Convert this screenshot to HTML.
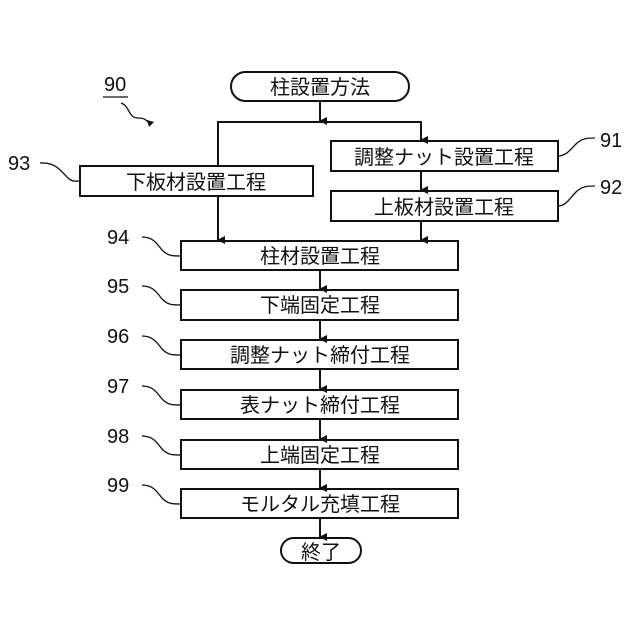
<!DOCTYPE html>
<html><head><meta charset="utf-8"><style>
html,body{margin:0;padding:0;background:#fff}
svg{display:block}
text{font-family:"Liberation Sans","Noto Sans CJK JP",sans-serif;fill:#111}
</style></head><body>
<svg width="640" height="640" viewBox="0 0 640 640" xmlns="http://www.w3.org/2000/svg">
<defs><marker id="a" markerWidth="8" markerHeight="8" refX="4" refY="7" orient="auto" markerUnits="userSpaceOnUse"><path d="M0,0 L8,0 L4,8 Z" fill="#111"/></marker></defs>
<g stroke="#111" stroke-width="2" fill="none">
<rect x="231" y="72" width="178" height="29" rx="14.5"/>
<rect x="80" y="166" width="233" height="30"/>
<rect x="331" y="141" width="227" height="30"/>
<rect x="331" y="191" width="227" height="30"/>
<rect x="181" y="241" width="277" height="29"/>
<rect x="181" y="290" width="277" height="30"/>
<rect x="181" y="340" width="277" height="29"/>
<rect x="181" y="390" width="277" height="29"/>
<rect x="181" y="440" width="277" height="29"/>
<rect x="181" y="489" width="277" height="29"/>
<rect x="281" y="538" width="80" height="25" rx="12.5"/>
<path d="M320 101 V121" marker-end="url(#a)"/>
<path d="M218 166 V122 H421 V140" marker-end="url(#a)"/>
<path d="M218 196 V240" marker-end="url(#a)"/>
<path d="M421 171 V190" marker-end="url(#a)"/>
<path d="M421 221 V240" marker-end="url(#a)"/>
<path d="M320 270 V289" marker-end="url(#a)"/>
<path d="M320 320 V339" marker-end="url(#a)"/>
<path d="M320 369 V389" marker-end="url(#a)"/>
<path d="M320 419 V439" marker-end="url(#a)"/>
<path d="M320 469 V488" marker-end="url(#a)"/>
<path d="M320 518 V537" marker-end="url(#a)"/>
<g stroke-width="1.3">
<path d="M103 97 H128"/>
<path d="M121 103 C130 106,128 118,138 118 C145 118,146 120,150 124"/>
<path d="M40 163 C55 162,60 170,68 178 C72 182,75 181,80 181"/>
<path d="M558 156 C566 156,570 150,576 144 C582 138,588 138,595 138"/>
<path d="M558 206 C566 206,570 198,576 192 C582 186,588 186,595 186"/>
<path d="M142 237 C152 237,156 242,162 250 C168 256,172 256,181 256"/>
<path d="M142 286 C152 286,156 291,162 299 C168 305,172 305,181 305"/>
<path d="M142 336 C152 336,156 341,162 349 C168 355,172 355,181 355"/>
<path d="M142 386 C152 386,156 391,162 399 C168 405,172 405,181 405"/>
<path d="M142 436 C152 436,156 441,162 449 C168 455,172 455,181 455"/>
<path d="M142 485 C152 485,156 490,162 498 C168 504,172 504,181 504"/>
</g>
</g>
<path d="M147 120 L154 122 L149 127 Z" fill="#111"/>
<g font-size="20" text-anchor="middle">
<text x="320" y="94">柱設置方法</text>
<text x="196" y="189">下板材設置工程</text>
<text x="444" y="164">調整ナット設置工程</text>
<text x="444" y="214">上板材設置工程</text>
<text x="320" y="263">柱材設置工程</text>
<text x="320" y="312">下端固定工程</text>
<text x="320" y="362">調整ナット締付工程</text>
<text x="320" y="412">表ナット締付工程</text>
<text x="320" y="462">上端固定工程</text>
<text x="320" y="511">モルタル充填工程</text>
<text x="321" y="559">終了</text>
</g>
<g font-size="20">
<text x="104" y="91">90</text>
<text x="8" y="170">93</text>
<text x="600" y="147">91</text>
<text x="600" y="194">92</text>
<text x="107" y="244">94</text>
<text x="107" y="293">95</text>
<text x="107" y="343">96</text>
<text x="107" y="393">97</text>
<text x="107" y="443">98</text>
<text x="107" y="492">99</text>
</g>
</svg>
</body></html>
